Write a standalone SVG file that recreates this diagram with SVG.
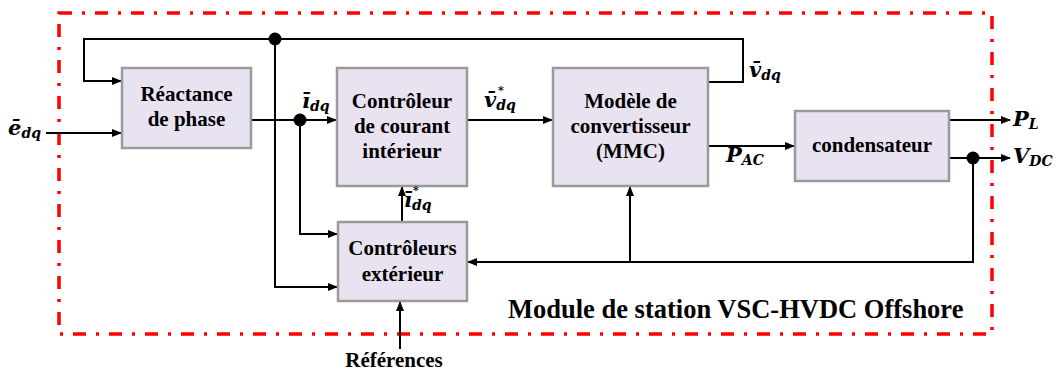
<svg xmlns="http://www.w3.org/2000/svg" width="1056" height="373" viewBox="0 0 1056 373">
<defs>
<marker id="arr" markerWidth="10" markerHeight="8" refX="9" refY="4" orient="auto" markerUnits="userSpaceOnUse">
<path d="M0,0 L10,4 L0,8 Z" fill="#000"/>
</marker>
<style>
.box{fill:#E9E3F1;stroke:#9A9A9A;stroke-width:2.5}
.bt{font-family:"Liberation Serif",serif;font-weight:bold;font-size:21px;text-anchor:middle;fill:#000}
.ln{fill:none;stroke:#000;stroke-width:2}
.m{font-family:"DejaVu Serif",serif;font-weight:bold;font-style:italic;font-size:21px;fill:#000}
.s{font-size:14px}
.st{font-family:"DejaVu Serif",serif;font-weight:bold;font-size:11px;fill:#000}
.frame{fill:none;stroke:#FF0000;stroke-width:3.5;stroke-dasharray:13 10 3 10}
</style>
</defs>
<rect class="frame" x="59" y="13" width="933" height="321"/>
<g id="connectors">
<path class="ln" d="M708,82 H743 V39 H84 V81 H121" marker-end="url(#arr)"/>
<path class="ln" d="M275,39 V287 H337" marker-end="url(#arr)"/>
<path class="ln" d="M46,133 H121" marker-end="url(#arr)"/>
<path class="ln" d="M251,120 H336" marker-end="url(#arr)"/>
<path class="ln" d="M300,120 V234 H337" marker-end="url(#arr)"/>
<path class="ln" d="M467,120 H552" marker-end="url(#arr)"/>
<path class="ln" d="M708,146 H794" marker-end="url(#arr)"/>
<path class="ln" d="M949,120 H1010" marker-end="url(#arr)"/>
<path class="ln" d="M949,158 H1010" marker-end="url(#arr)"/>
<path class="ln" d="M973,158 V262 H468" marker-end="url(#arr)"/>
<path class="ln" d="M630,262 V187" marker-end="url(#arr)"/>
<path class="ln" d="M402,222 V187" marker-end="url(#arr)"/>
<path class="ln" d="M400,349 V302" marker-end="url(#arr)"/>
<circle cx="275" cy="39" r="6.5" fill="#000"/>
<circle cx="300" cy="120" r="6.5" fill="#000"/>
<circle cx="973" cy="158" r="6.5" fill="#000"/>
</g>
<g id="reactance">
<rect class="box" x="122" y="68" width="129" height="80"/>
<text class="bt" x="186.5" y="101">Réactance</text>
<text class="bt" x="186.5" y="126">de phase</text>
</g>
<g id="controleur-courant">
<rect class="box" x="337" y="68" width="130" height="118"/>
<text class="bt" x="402" y="108">Contrôleur</text>
<text class="bt" x="402" y="133">de courant</text>
<text class="bt" x="402" y="158">intérieur</text>
</g>
<g id="mmc">
<rect class="box" x="553" y="68" width="155" height="118"/>
<text class="bt" x="630.5" y="108">Modèle de</text>
<text class="bt" x="630.5" y="133">convertisseur</text>
<text class="bt" x="630.5" y="158">(MMC)</text>
</g>
<g id="condensateur">
<rect class="box" x="795" y="111" width="154" height="70"/>
<text class="bt" x="872" y="152">condensateur</text>
</g>
<g id="controleurs-exterieur">
<rect class="box" x="338" y="222" width="129" height="79"/>
<text class="bt" x="402.5" y="255">Contrôleurs</text>
<text class="bt" x="402.5" y="281">extérieur</text>
</g>
<g id="labels">
<text class="m" x="8" y="135">ē<tspan class="s" dy="3">dq</tspan></text>
<text class="m" x="302" y="108">ī<tspan class="s" dy="3">dq</tspan></text>
<text class="m" x="484" y="107">v̄<tspan class="s" dy="3">dq</tspan></text>
<text class="st" x="498" y="94">*</text>
<text class="m" x="404" y="207">ī<tspan class="s" dy="3">dq</tspan></text>
<text class="st" x="413" y="194">*</text>
<text class="m" x="749" y="77">v̄<tspan class="s" dy="3">dq</tspan></text>
<text class="m" x="1013" y="126">P<tspan class="s" dy="3">L</tspan></text>
<text class="m" x="1013" y="163">V<tspan class="s" dy="3">DC</tspan></text>
<text class="m" x="726" y="162">P<tspan class="s" dy="3">AC</tspan></text>
<text class="bt" x="394" y="367">Références</text>
<text x="508" y="318" style="font-family:'Liberation Serif',serif;font-weight:bold;font-size:26.5px;fill:#000">Module de station VSC-HVDC Offshore</text>
</g>
</svg>
